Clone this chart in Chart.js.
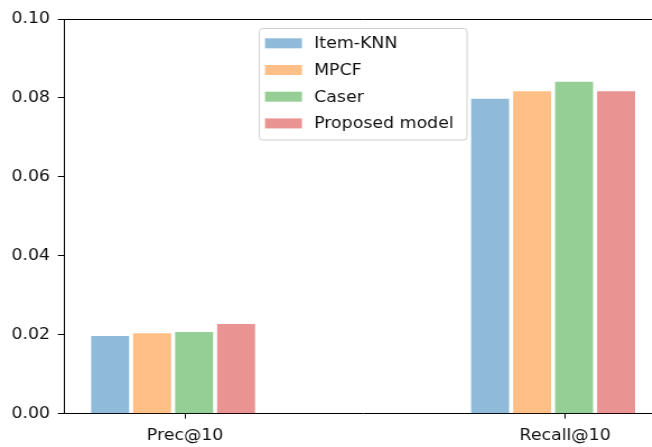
<!DOCTYPE html>
<html>
<head>
<meta charset="utf-8">
<script src="https://cdn.jsdelivr.net/npm/chart.js@4"></script>
<style>
  html, body { margin: 0; padding: 0; background: #fff; overflow: hidden; }
  #frame { width: 652px; height: 447px; overflow: hidden; position: relative; }
  #wrap { width: 600px; height: 447px; transform: scaleX(1.12); transform-origin: 0 0; }
</style>
</head>
<body>
<div id="frame"><div id="wrap"><canvas id="c"></canvas></div></div>
<script>
// Top-10 ranking metrics for each model
const categories = ['Prec@10', 'Recall@10'];
const models = ['Item-KNN', 'MPCF', 'Caser', 'Proposed model'];
const itemKnn  = [0.0197, 0.0798];
const mpcf     = [0.0204, 0.0817];
const caser    = [0.0207, 0.0841];
const proposed = [0.0227, 0.0817];
const yTicks = [0, 0.02, 0.04, 0.06, 0.08, 0.10];

const seriesValues = [itemKnn, mpcf, caser, proposed];
const colors = [
  'rgba(31,119,180,0.5)',
  'rgba(255,127,14,0.5)',
  'rgba(44,160,44,0.5)',
  'rgba(214,39,40,0.5)'
];

Chart.defaults.font.family = "'DejaVu Sans', sans-serif";
Chart.defaults.font.size = 15.5;
Chart.defaults.color = '#111';

const datasets = models.map((name, k) => ({
  label: name,
  data: seriesValues[k].map((v, i) => ({ x: i, y: v })),
  backgroundColor: colors[k],
  borderWidth: 0,
  categoryPercentage: 0.442,
  barPercentage: 0.904
}));

// Closes the frame on top and right, like plot spines
const spines = {
  id: 'spines',
  afterDraw(chart) {
    const { ctx, chartArea: a } = chart;
    ctx.save();
    ctx.strokeStyle = '#000';
    ctx.lineWidth = 1;
    ctx.beginPath();
    ctx.moveTo(a.left, a.top + 0.5);
    ctx.lineTo(a.right, a.top + 0.5);
    ctx.lineTo(a.right, a.bottom);
    ctx.stroke();
    ctx.restore();
  }
};

// Boxed legend inside the plot area, one row per dataset
const boxLegend = {
  id: 'boxLegend',
  afterDraw(chart) {
    const { ctx } = chart;
    const x0 = 231.5, y0 = 28.5, w = 185.5, h = 111.5;
    ctx.save();
    ctx.beginPath();
    ctx.roundRect(x0, y0, w, h, 3);
    ctx.fillStyle = 'rgba(255,255,255,0.8)';
    ctx.fill();
    ctx.strokeStyle = '#d0d0d0';
    ctx.lineWidth = 1;
    ctx.stroke();
    ctx.font = "15.5px 'DejaVu Sans', sans-serif";
    ctx.textBaseline = 'middle';
    ctx.textAlign = 'left';
    chart.data.datasets.forEach((ds, i) => {
      const cy = 43.3 + i * 26.7;
      ctx.fillStyle = ds.backgroundColor;
      ctx.fillRect(236.6, cy - 5, 33, 10);
      ctx.fillStyle = '#111';
      ctx.fillText(ds.label, 280.5, cy + 1);
    });
    ctx.restore();
  }
};

new Chart(document.getElementById('c'), {
  type: 'bar',
  data: { datasets },
  plugins: [spines, boxLegend],
  options: {
    responsive: true,
    maintainAspectRatio: false,
    animation: false,
    layout: { padding: { top: 19, right: 8.7, bottom: 0, left: 0 } },
    plugins: { legend: { display: false }, tooltip: { enabled: false } },
    scales: {
      x: {
        type: 'linear',
        min: -0.2873,
        max: 1.2873,
        offset: false,
        afterBuildTicks(scale) {
          scale.ticks = categories.map((c, i) => ({ value: i + 0.0316 }));
        },
        afterFit(scale) { scale.height = 33.3; },
        ticks: {
          autoSkip: false,
          maxRotation: 0,
          padding: 8,
          color: '#111',
          callback: (v, i) => categories[i]
        },
        grid: { offset: false, drawOnChartArea: false, drawTicks: true, tickLength: 5, color: '#000' },
        border: { display: true, color: '#000', width: 1 }
      },
      y: {
        min: 0,
        max: 0.1,
        afterBuildTicks(scale) {
          scale.ticks = yTicks.map(v => ({ value: v }));
        },
        afterFit(scale) { scale.width = 57.1; },
        ticks: {
          padding: 7,
          color: '#111',
          callback: v => Number(v).toFixed(2)
        },
        grid: { drawOnChartArea: false, drawTicks: true, tickLength: 5.4, color: '#000' },
        border: { display: true, color: '#000', width: 1 }
      }
    }
  }
});
</script>
</body>
</html>
